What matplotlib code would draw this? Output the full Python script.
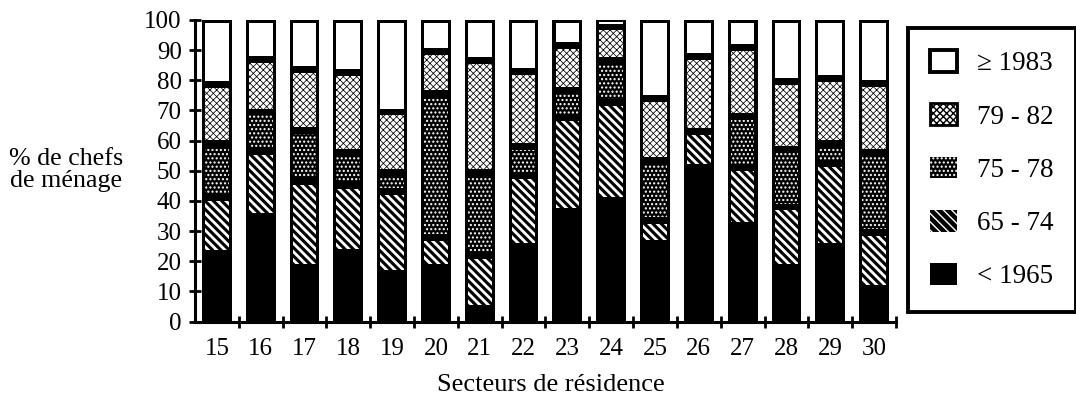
import matplotlib
matplotlib.use('Agg')
import matplotlib.pyplot as plt
import numpy as np
from matplotlib.patches import Patch

sectors = ['15', '16', '17', '18', '19', '20', '21', '22',
           '23', '24', '25', '26', '27', '28', '29', '30']
lt1965 = [22.5, 35, 18, 23, 16, 18, 4.5, 25, 36.5, 40, 26, 51, 32, 18, 25, 11]
y65_74 = [18.5, 21.5, 28.5, 22, 27, 10, 17.5, 23.5, 31, 32.5, 7.5, 12, 19, 20, 27.5, 18.5]
y75_78 = [18, 13, 17, 11, 6.5, 47.5, 27.5, 9.5, 9, 14, 20, 0, 17, 19, 6.5, 26.5]
y79_82 = [19.5, 17.5, 20, 26.5, 20, 14, 37, 25, 15, 11.5, 20.5, 25, 23, 22.5, 21.5, 23]
ge1983 = [21.5, 13, 16.5, 17.5, 30.5, 10.5, 13.5, 17, 8.5, 2, 26, 12, 9, 20.5, 19.5, 21]
labels = ['< 1965', '65 - 74', '75 - 78', '79 - 82', '\u2265 1983']
yticks = list(range(0, 101, 10))

plt.rcParams['font.family'] = ['Liberation Serif', 'DejaVu Serif']

# styles: (facecolor, hatchcolor, hatch, hatch linewidth)
styles = [None,
          ('black', 'white', '\\\\\\\\', 2.0),
          ('black', 'white', '....', 1.0),
          ('white', 'black', 'xxxxx', 0.55),
          ('white', 'white', None, 0.5)]

fig = plt.figure(figsize=(10.76, 4), dpi=100)
ax = fig.add_axes([0.1812, 0.196, 0.8327 - 0.1812, 0.754])

x = np.arange(len(sectors))
W = 0.68
DX = 0.07
DY = 1.15
series = [np.array(s, dtype=float) for s in [lt1965, y65_74, y75_78, y79_82, ge1983]]
totals = np.sum(series, axis=0)
ax.bar(x, totals, W, color='black', linewidth=0, zorder=1)

bottom = np.zeros(len(sectors))
for vals, st in zip(series, styles):
    if st is not None:
        fc, hc, hatch, hlw = st
        d = np.minimum(DY, vals * 0.3)
        mask = vals > 0
        with plt.rc_context({'hatch.linewidth': hlw}):
            bars = ax.bar(x[mask], (vals - 2 * d)[mask], W - 2 * DX,
                          bottom=(bottom + d)[mask], facecolor=fc,
                          edgecolor=hc, hatch=hatch, linewidth=0, zorder=2)
        for b in bars:
            if hasattr(b, 'set_hatch_linewidth'):
                b.set_hatch_linewidth(hlw)
    bottom = bottom + vals

ax.set_xlim(-0.5, 15.5)
ax.set_ylim(0, 100)
for s in ['top', 'right']:
    ax.spines[s].set_visible(False)
for s in ['left', 'bottom']:
    ax.spines[s].set_linewidth(2.2)
    ax.spines[s].set_zorder(3)

ax.set_yticks(yticks)
ax.set_yticklabels([str(v) for v in yticks])
ax.tick_params(axis='y', direction='inout', length=9, width=2.0, pad=5, labelsize=18)
ax.set_xticks(x)
ax.set_xticklabels(sectors)
ax.set_xticks(np.arange(0.5, 15.6, 1), minor=True)
ax.tick_params(axis='x', which='major', length=0, pad=12, labelsize=18)
ax.tick_params(axis='x', which='minor', direction='inout', length=8, width=2.0)

fig.text(66 / 1076, 1 - 170 / 400, '% de chefs\nde ménage', ha='center', va='center',
         multialignment='center', fontsize=18.7, linespacing=1.05)
fig.text(551 / 1076, 1 - 385 / 400, 'Secteurs de résidence', ha='center', va='center',
         fontsize=19)

# legend
h_ge = Patch(facecolor='white', edgecolor='black', linewidth=2.8)
with plt.rc_context({'hatch.linewidth': 0.55}):
    h_79 = Patch(facecolor='white', edgecolor='black', hatch='xxxxx', linewidth=2.0)
with plt.rc_context({'hatch.linewidth': 1.0}):
    h_75 = Patch(facecolor='black', edgecolor='white', hatch='....', linewidth=0)
with plt.rc_context({'hatch.linewidth': 2.0}):
    h_65 = Patch(facecolor='black', edgecolor='white', hatch='\\\\\\\\', linewidth=0)
h_lt = Patch(facecolor='black', edgecolor='black', linewidth=0)
leg = fig.legend([h_ge, h_79, h_75, h_65, h_lt], labels[::-1],
                 loc='upper left', bbox_to_anchor=(908 / 1076, 1 - 28 / 400),
                 frameon=True, fancybox=False, edgecolor='black', framealpha=1,
                 fontsize=19.5, handlelength=1.0, handleheight=0.85,
                 labelspacing=1.0, borderpad=0.82, handletextpad=0.72,
                 borderaxespad=0)
leg.get_frame().set_linewidth(2.8)

fig.savefig('out.png', dpi=100)
